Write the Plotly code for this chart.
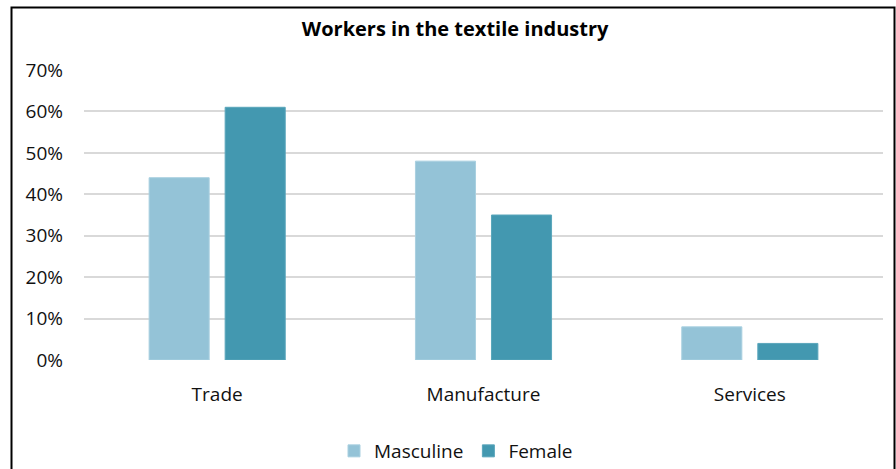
import plotly.graph_objects as go

categories = ["Trade", "Manufacture", "Services"]
masculine = [44, 48, 8]
female = [61, 35, 4]
y_ticks = [0, 10, 20, 30, 40, 50, 60, 70]
y_tick_labels = [f"{v}%" for v in y_ticks]

FONT = "Open Sans"

fig = go.Figure()
fig.add_trace(go.Bar(name="Masculine", x=categories, y=masculine,
                     marker=dict(color="#94c3d7", line=dict(color="#a9d0e0", width=1))))
fig.add_trace(go.Bar(name="Female", x=categories, y=female,
                     marker=dict(color="#4398b0", line=dict(color="#5aa6bb", width=1))))

# plot area spans x 84..883, y 70..360 in pixels
W, H = 896, 469
L, R, T, B = 84, 13, 70, 109
pw, ph = W - L - R, H - T - B

def px_x(x):
    return (x - L) / pw

def px_y(y):
    return (H - B - y) / ph

fig.update_layout(
    width=W, height=H,
    margin=dict(l=L, r=R, t=T, b=B, autoexpand=False),
    paper_bgcolor="white", plot_bgcolor="white",
    font=dict(family=FONT, size=19, color="#111111"),
    barmode="group", bargap=0.429, bargroupgap=0.21,
    title=dict(text="<b>Workers in the textile industry</b>",
               x=0.508, xanchor="center", y=1 - 29 / H, yanchor="middle",
               font=dict(family=FONT, size=20, color="#000000")),
    xaxis=dict(showgrid=False, showline=False, ticks="", zeroline=False,
               tickfont=dict(size=19), ticklabelstandoff=21),
    yaxis=dict(range=[0, 70], tickvals=y_ticks, ticktext=y_tick_labels,
               showgrid=True, gridcolor="#d9d9d9", gridwidth=1.5,
               zeroline=False, showline=False, ticks="",
               tickfont=dict(size=19), ticklabelstandoff=20),
    legend=dict(orientation="h", x=px_x(334), xanchor="left",
                y=px_y(451), yanchor="middle",
                font=dict(size=19), itemwidth=30, traceorder="normal"),
    shapes=[dict(type="rect", xref="paper", yref="paper",
                 x0=px_x(11.5), x1=px_x(894.5), y0=px_y(520), y1=px_y(7.5),
                 line=dict(color="#000000", width=2), layer="above")],
)

fig.write_html("out.html")
